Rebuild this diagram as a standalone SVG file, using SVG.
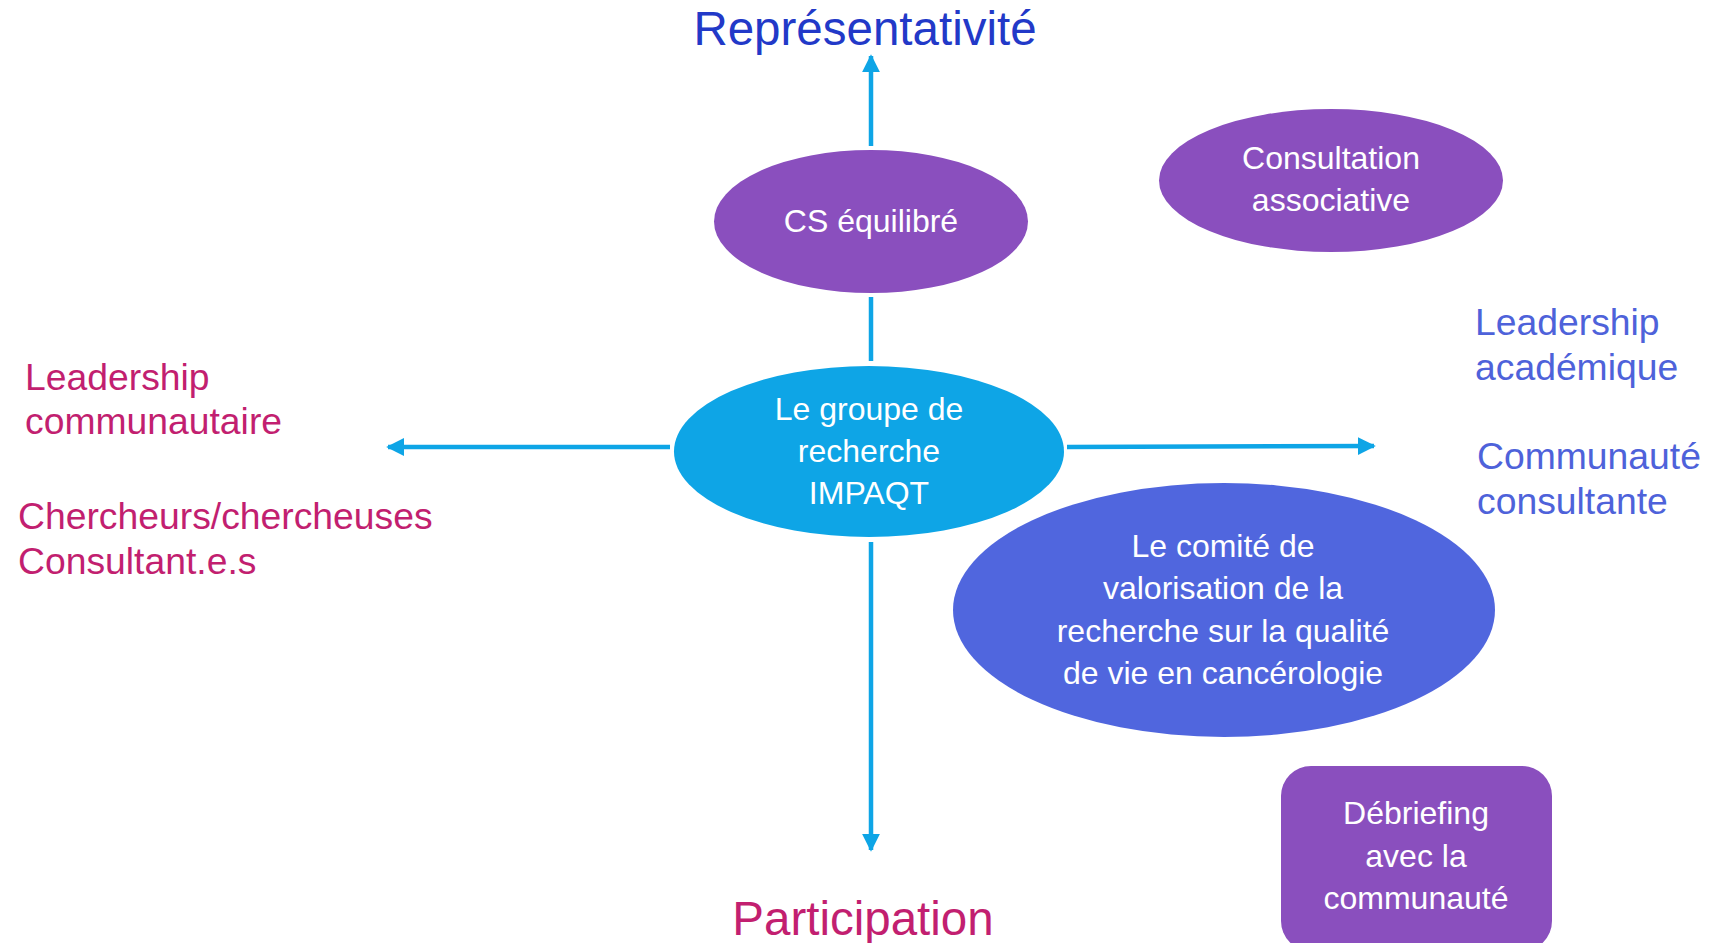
<svg xmlns="http://www.w3.org/2000/svg" width="1711" height="943" viewBox="0 0 1711 943">
<style>
text{font-family:"Liberation Sans",Arial,sans-serif}
.w{fill:#ffffff;font-size:32px;text-anchor:middle}
.ax{font-size:47.5px;text-anchor:middle}
.side{font-size:37.3px}
.pk{fill:#C21F70}
.bl{fill:#4E62DA}
.conn{stroke:#0EA5E6;stroke-width:4.5;fill:none}
</style>
<defs>
<marker id="ah" viewBox="0 0 10 10" refX="9" refY="5" markerWidth="4" markerHeight="4" orient="auto" markerUnits="strokeWidth">
<path d="M0,0 L10,5 L0,10 z" fill="#0EA5E6"/>
</marker>
</defs>
<rect width="1711" height="943" fill="#ffffff"/>
<g id="connectors">
<line class="conn" x1="871" y1="146" x2="871" y2="56" marker-end="url(#ah)"/>
<line class="conn" x1="871" y1="297" x2="871" y2="361"/>
<line class="conn" x1="871" y1="542" x2="871" y2="850" marker-end="url(#ah)"/>
<line class="conn" x1="670" y1="447" x2="388" y2="447" marker-end="url(#ah)"/>
<line class="conn" x1="1067" y1="447" x2="1374" y2="446" marker-end="url(#ah)"/>
</g>
<g id="title-representativite"><text class="ax" x="865" y="45" fill="#2239C8">Représentativité</text></g>
<g id="title-participation"><text class="ax pk" x="863" y="935">Participation</text></g>
<g id="cs-equilibre">
<ellipse cx="871" cy="221.5" rx="157" ry="71.5" fill="#8A4FBE"/>
<text class="w" x="871" y="232">CS équilibré</text>
</g>
<g id="consultation-associative">
<ellipse cx="1331" cy="180.5" rx="172" ry="71.5" fill="#8A4FBE"/>
<text class="w" x="1331" y="169">Consultation</text>
<text class="w" x="1331" y="211">associative</text>
</g>
<g id="groupe-impaqt">
<ellipse cx="869" cy="451.5" rx="195" ry="85.5" fill="#0EA5E6"/>
<text class="w" x="869" y="420">Le groupe de</text>
<text class="w" x="869" y="462">recherche</text>
<text class="w" x="869" y="504">IMPAQT</text>
</g>
<g id="comite">
<ellipse cx="1224" cy="610" rx="271" ry="127" fill="#5066DE"/>
<text class="w" x="1223" y="557">Le comité de</text>
<text class="w" x="1223" y="599">valorisation de la</text>
<text class="w" x="1223" y="642">recherche sur la qualité</text>
<text class="w" x="1223" y="684">de vie en cancérologie</text>
</g>
<g id="debriefing">
<rect x="1281" y="766" width="271" height="185" rx="30" ry="30" fill="#8A4FBE"/>
<text class="w" x="1416" y="824">Débriefing</text>
<text class="w" x="1416" y="867">avec la</text>
<text class="w" x="1416" y="909">communauté</text>
</g>
<g id="leadership-communautaire">
<text class="side pk" x="25" y="390">Leadership</text>
<text class="side pk" x="25" y="434">communautaire</text>
</g>
<g id="chercheurs">
<text class="side pk" x="18" y="529">Chercheurs/chercheuses</text>
<text class="side pk" x="18" y="574">Consultant.e.s</text>
</g>
<g id="leadership-academique">
<text class="side bl" x="1475" y="335">Leadership</text>
<text class="side bl" x="1475" y="380">académique</text>
</g>
<g id="communaute-consultante">
<text class="side bl" x="1477" y="469">Communauté</text>
<text class="side bl" x="1477" y="514">consultante</text>
</g>
</svg>
